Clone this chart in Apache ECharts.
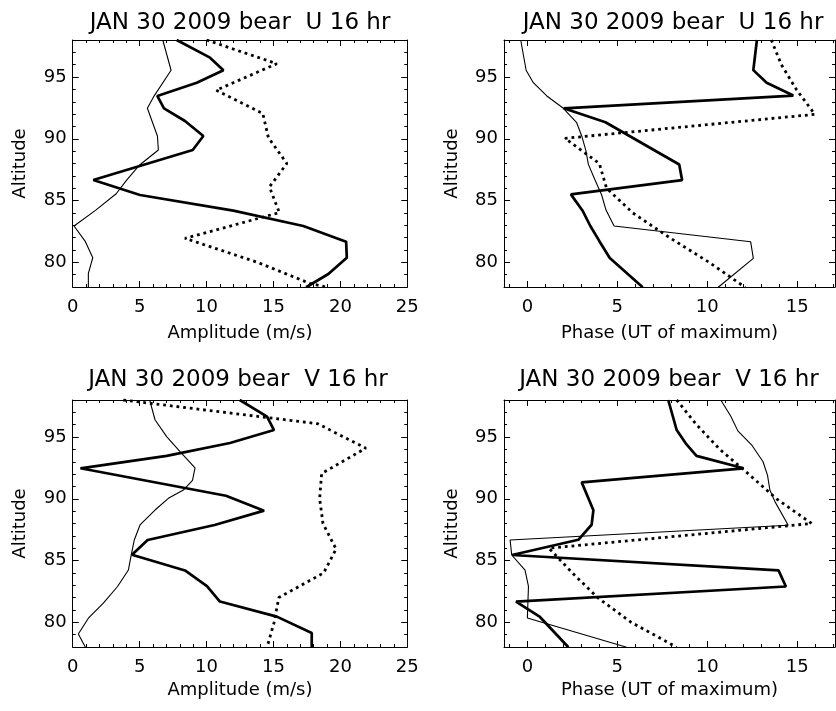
<!DOCTYPE html>
<html>
<head>
<meta charset="utf-8">
<script src="https://cdn.jsdelivr.net/npm/echarts@6/dist/echarts.min.js"></script>
<style>
html,body{margin:0;padding:0;background:#fff;}
#chart{width:836px;height:711px;}
</style>
</head>
<body>
<div id="chart"></div>
<script>
// ---------- Data: [value, altitude(km)] ----------
// Top-left: U amplitude (m/s)
const uAmpThick = [[7.77,98.0],[10.26,96.57],[11.26,95.55],[9.27,94.54],[6.32,93.47],[6.82,92.47],[8.39,91.44],[9.76,90.23],[8.97,89.09],[1.54,86.66],[5.03,85.45],[12.0,84.18],[17.23,82.94],[20.43,81.67],[20.48,80.37],[19.1,79.05],[17.44,77.98]];
const uAmpThin = [[6.73,98.0],[7.35,95.55],[6.1,93.5],[5.58,92.47],[6.33,90.23],[6.40,89.09],[5.0,87.88],[4.03,86.66],[3.25,85.55],[1.7,84.2],[0.1,82.94],[0.95,81.67],[1.5,80.37],[1.17,79.1],[1.17,77.98]];
const uAmpDot = [[10.0,98.0],[15.25,96.08],[10.71,93.93],[14.2,92.06],[14.62,90.1],[16.0,88.0],[14.7,86.1],[15.44,84.02],[8.39,81.94],[13.8,80.0],[17.7,78.3],[19.0,77.98]];
// Top-right: U phase (UT of maximum)
const uPhThick = [[12.76,98.0],[12.56,95.56],[13.3,94.54],[14.78,93.5],[2.02,92.47],[4.34,91.34],[8.44,87.92],[8.6,86.66],[2.42,85.5],[3.06,84.2],[3.5,82.94],[4.02,81.67],[4.58,80.35],[6.41,77.98]];
const uPhThin = [[-0.37,98.0],[-0.07,95.55],[0.33,94.54],[1.08,93.47],[2.0,92.47],[2.74,91.3],[3.02,90.23],[3.26,89.0],[3.39,87.93],[3.76,86.66],[4.13,85.45],[4.37,84.23],[4.82,82.94],[12.41,81.67],[12.56,80.32],[10.61,77.98]];
const uPhDot = [[13.56,98.0],[14.12,96.0],[14.95,94.0],[15.98,91.98],[2.09,90.04],[4.0,88.0],[4.4,86.0],[5.86,84.0],[7.9,82.0],[10.1,80.0],[12.1,77.98]];
// Bottom-left: V amplitude (m/s)
const vAmpThick = [[12.48,98.0],[14.52,96.65],[15.04,95.57],[11.75,94.52],[7.02,93.47],[0.58,92.47],[11.45,90.25],[14.3,89.04],[10.6,87.88],[5.6,86.66],[4.43,85.47],[8.39,84.2],[10.03,82.93],[11.0,81.68],[15.25,80.46],[17.86,79.14],[17.86,77.98]];
const vAmpThin = [[5.75,98.0],[6.15,96.4],[7.02,95.03],[8.02,93.82],[9.14,92.5],[8.95,91.5],[8.27,90.71],[7.15,90.04],[6.15,89.09],[5.03,87.88],[4.6,86.66],[4.38,85.5],[4.16,84.23],[3.35,82.9],[2.29,81.55],[1.17,80.33],[0.42,79.05],[0.95,77.98]];
const vAmpDot = [[3.78,98.0],[18.3,96.08],[21.9,94.1],[18.6,92.05],[18.45,90.0],[18.7,88.0],[19.68,85.93],[18.75,84.0],[15.4,82.0],[15.05,80.0],[14.52,77.98]];
// Bottom-right: V phase (UT of maximum)
const vPhThick = [[7.83,98.0],[8.3,95.57],[8.8,94.49],[9.4,93.48],[12.02,92.47],[3.02,91.33],[3.67,89.08],[3.57,87.9],[2.83,86.68],[-0.85,85.45],[13.96,84.2],[14.37,82.9],[-0.63,81.68],[0.7,80.43],[2.28,77.98]];
const vPhThin = [[10.75,98.0],[11.3,96.7],[11.7,95.5],[12.5,94.3],[13.1,93.0],[13.35,91.9],[13.48,90.71],[13.76,89.77],[14.5,87.86],[-0.96,86.66],[-0.87,85.45],[-0.13,84.23],[0.06,82.9],[0.03,81.67],[0.0,80.35],[5.52,77.98]];
const vPhDot = [[8.3,98.0],[9.4,96.0],[10.7,94.0],[12.3,92.0],[13.85,90.0],[15.8,88.0],[1.2,86.0],[2.5,84.0],[3.9,82.0],[5.77,80.0],[8.3,77.98]];

// ---------- Ticks / labels ----------
const ampMajor = [0,5,10,15,20,25];
const ampMinor = [0,1,2,3,4,5,6,7,8,9,10,11,12,13,14,15,16,17,18,19,20,21,22,23,24,25];
const phMajor = [0,5,10,15];
const phMinor = [-1,0,1,2,3,4,5,6,7,8,9,10,11,12,13,14,15,16,17];
const altMajor = [80,85,90,95];
const altMinor = [78,79,80,81,82,83,84,85,86,87,88,89,90,91,92,93,94,95,96,97,98];
const titles = ['JAN 30 2009 bear  U 16 hr','JAN 30 2009 bear  U 16 hr','JAN 30 2009 bear  V 16 hr','JAN 30 2009 bear  V 16 hr'];
const xNames = ['Amplitude (m/s)','Phase (UT of maximum)','Amplitude (m/s)','Phase (UT of maximum)'];
const yName = 'Altitude';

// ---------- Layout ----------
const FONT = '"DejaVu Sans", "Liberation Sans", Arial, sans-serif';
const grids = [
  {left:72.7, top:40, width:334.6, height:247},
  {left:504, top:40, width:331, height:247},
  {left:72.7, top:400, width:334.6, height:247},
  {left:504, top:400, width:331, height:247}
];
const titleCenters = [235, 668, 233, 664];
const titleTops = [7, 7, 364, 364];
const panels = [
  {xmin:0, xmax:25, major:ampMajor, minor:ampMinor, series:[uAmpThick,uAmpThin,uAmpDot]},
  {xmin:-1.3, xmax:17.1, major:phMajor, minor:phMinor, series:[uPhThick,uPhThin,uPhDot]},
  {xmin:0, xmax:25, major:ampMajor, minor:ampMinor, series:[vAmpThick,vAmpThin,vAmpDot]},
  {xmin:-1.3, xmax:17.1, major:phMajor, minor:phMinor, series:[vPhThick,vPhThin,vPhDot]}
];

const black = '#000';
const xAxes = [], yAxes = [], series = [], titleOpts = [];

panels.forEach((p, i) => {
  const nameGap = i < 2 ? 37 : 34;
  const baseX = xAxes.length, baseY = yAxes.length;
  xAxes.push({
    type:'value', gridIndex:i, position:'bottom', min:p.xmin, max:p.xmax,
    axisLine:{show:true, onZero:false, lineStyle:{color:black, width:1}},
    axisTick:{show:true, inside:true, length:6, customValues:p.major, lineStyle:{color:black}},
    axisLabel:{show:true, customValues:p.major, color:black, fontSize:18, fontFamily:FONT, margin:11},
    splitLine:{show:false},
    name:xNames[i], nameLocation:'middle', nameGap:nameGap,
    nameTextStyle:{color:black, fontSize:18, fontFamily:FONT}
  });
  xAxes.push({
    type:'value', gridIndex:i, position:'bottom', min:p.xmin, max:p.xmax,
    axisLine:{show:false, onZero:false},
    axisTick:{show:true, inside:true, length:3, customValues:p.minor, lineStyle:{color:black}},
    axisLabel:{show:false}, splitLine:{show:false}
  });
  xAxes.push({
    type:'value', gridIndex:i, position:'top', min:p.xmin, max:p.xmax,
    axisLine:{show:true, onZero:false, lineStyle:{color:black, width:1}},
    axisTick:{show:true, inside:true, length:6, customValues:p.major, lineStyle:{color:black}},
    axisLabel:{show:false}, splitLine:{show:false}
  });
  xAxes.push({
    type:'value', gridIndex:i, position:'top', min:p.xmin, max:p.xmax,
    axisLine:{show:false, onZero:false},
    axisTick:{show:true, inside:true, length:3, customValues:p.minor, lineStyle:{color:black}},
    axisLabel:{show:false}, splitLine:{show:false}
  });
  yAxes.push({
    type:'value', gridIndex:i, position:'left', min:78, max:98,
    axisLine:{show:true, onZero:false, lineStyle:{color:black, width:1}},
    axisTick:{show:true, inside:true, length:6, customValues:altMajor, lineStyle:{color:black}},
    axisLabel:{show:true, customValues:altMajor, color:black, fontSize:18, fontFamily:FONT, margin:6},
    splitLine:{show:false},
    name:yName, nameLocation:'middle', nameGap:43, nameRotate:90,
    nameTextStyle:{color:black, fontSize:18, fontFamily:FONT}
  });
  yAxes.push({
    type:'value', gridIndex:i, position:'left', min:78, max:98,
    axisLine:{show:false, onZero:false},
    axisTick:{show:true, inside:true, length:3, customValues:altMinor, lineStyle:{color:black}},
    axisLabel:{show:false}, splitLine:{show:false}
  });
  yAxes.push({
    type:'value', gridIndex:i, position:'right', min:78, max:98,
    axisLine:{show:true, onZero:false, lineStyle:{color:black, width:1}},
    axisTick:{show:true, inside:true, length:6, customValues:altMajor, lineStyle:{color:black}},
    axisLabel:{show:false}, splitLine:{show:false}
  });
  yAxes.push({
    type:'value', gridIndex:i, position:'right', min:78, max:98,
    axisLine:{show:false, onZero:false},
    axisTick:{show:true, inside:true, length:3, customValues:altMinor, lineStyle:{color:black}},
    axisLabel:{show:false}, splitLine:{show:false}
  });
  const styles = [
    {color:black, width:2.7, type:'solid'},
    {color:black, width:1.1, type:'solid'},
    {color:black, width:2.8, type:[2.8,3.9], cap:'butt'}
  ];
  p.series.forEach((d, k) => {
    series.push({
      type:'line', xAxisIndex:baseX, yAxisIndex:baseY, data:d,
      showSymbol:false, symbol:'none', clip:true, animation:false, silent:true,
      lineStyle:styles[k], z:3-k
    });
  });
  titleOpts.push({
    text:titles[i], left:titleCenters[i], top:titleTops[i], textAlign:'center',
    textStyle:{color:black, fontSize:23, fontWeight:'normal', fontFamily:FONT}
  });
});

const chart = echarts.init(document.getElementById('chart'), null, {renderer:'canvas'});
chart.setOption({
  backgroundColor:'#fff',
  animation:false,
  title:titleOpts,
  grid:grids.map(g => Object.assign({containLabel:false}, g)),
  xAxis:xAxes,
  yAxis:yAxes,
  series:series
});
</script>
</body>
</html>
